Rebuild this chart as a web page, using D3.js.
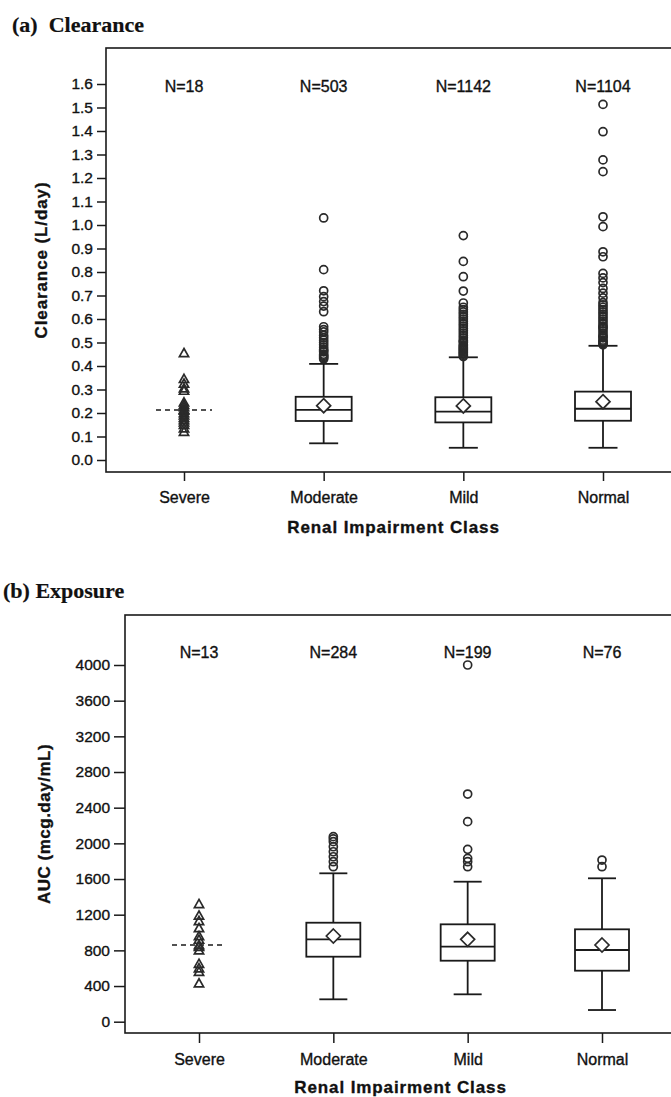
<!DOCTYPE html>
<html>
<head>
<meta charset="utf-8">
<script src="https://cdn.jsdelivr.net/npm/d3@7"></script>
<style>
  html, body { margin: 0; padding: 0; background: #fff; }
  svg { display: block; }
  text { font-family: "Liberation Sans", Arial, sans-serif; fill: #111; stroke: #111; stroke-width: 0.35px; }
  .ptitle { font-family: "Liberation Serif", "Times New Roman", serif; font-weight: bold; font-size: 22px; stroke-width: 0.2px; }
</style>
</head>
<body>
<script>
// Renal impairment classes shown on both panels
const categories = ["Severe", "Moderate", "Mild", "Normal"];

// (a) Clearance (L/day)
const clearanceN = [18, 503, 1142, 1104];
const clearanceTicks = [0, 0.1, 0.2, 0.3, 0.4, 0.5, 0.6, 0.7, 0.8, 0.9, 1.0, 1.1, 1.2, 1.3, 1.4, 1.5, 1.6];
const clearanceSevere = [0.455, 0.345, 0.325, 0.305, 0.295, 0.245, 0.235, 0.225, 0.215,
                         0.21, 0.2, 0.19, 0.18, 0.17, 0.16, 0.15, 0.135, 0.12];
// box statistics for Moderate, Mild, Normal
const clearanceLow    = [0.071, 0.052, 0.052];
const clearanceQ1     = [0.166, 0.160, 0.167];
const clearanceMedian = [0.213, 0.206, 0.218];
const clearanceQ3     = [0.269, 0.267, 0.291];
const clearanceHigh   = [0.409, 0.437, 0.486];
const clearanceMean   = [0.231, 0.230, 0.248];
const clearanceOutliers = [
  [0.43, 0.435, 0.44, 0.445, 0.45, 0.46, 0.465, 0.47, 0.48, 0.49, 0.50, 0.51, 0.52, 0.53,
   0.545, 0.555, 0.567, 0.631, 0.655, 0.674, 0.695, 0.72, 0.81, 1.03],
  [0.44, 0.445, 0.45, 0.455, 0.46, 0.465, 0.47, 0.475, 0.48, 0.485, 0.49, 0.50, 0.505, 0.51,
   0.52, 0.53, 0.54, 0.55, 0.56, 0.57, 0.58, 0.59, 0.60, 0.61, 0.62, 0.63, 0.64, 0.65,
   0.668, 0.719, 0.78, 0.845, 0.955],
  [0.49, 0.495, 0.50, 0.505, 0.51, 0.52, 0.525, 0.53, 0.54, 0.55, 0.56, 0.565, 0.57, 0.58,
   0.59, 0.60, 0.61, 0.62, 0.63, 0.64, 0.65, 0.66, 0.67, 0.69, 0.71, 0.73, 0.755, 0.775,
   0.794, 0.865, 0.886, 0.993, 1.035, 1.227, 1.277, 1.397, 1.513]
];

// (b) Exposure, AUC (mcg.day/mL)
const exposureN = [13, 284, 199, 76];
const exposureTicks = [0, 400, 800, 1200, 1600, 2000, 2400, 2800, 3200, 3600, 4000];
const exposureSevere = [1320, 1190, 1130, 1050, 960, 920, 860, 840, 800, 650, 600, 560, 430];
const exposureLow    = [251, 307, 131];
const exposureQ1     = [729, 684, 572];
const exposureMedian = [924, 841, 804];
const exposureQ3     = [1110, 1092, 1036];
const exposureHigh   = [1664, 1570, 1608];
const exposureMean   = [961, 924, 860];
const exposureOutliers = [
  [1738, 1794, 1850, 1906, 1962, 2019, 2050, 2075],
  [1738, 1794, 1832, 1933, 2243, 2553, 4000],
  [1738, 1813]
];

const W = 671, H = 1097;
const svg = d3.select("body").append("svg").attr("width", W).attr("height", H);

const ink = "#1a1a1a";

function drawPanel(o) {
  const g = svg.append("g");

  const x = d3.scalePoint().domain(categories).range(o.xRange);
  const y = d3.scaleLinear().domain([0, o.yMax]).range(o.yRange);

  // panel title
  g.append("text").attr("class", "ptitle")
    .attr("x", o.titleX).attr("y", o.titleY).text(o.title);

  // plot frame (right side runs past the page edge)
  g.append("rect")
    .attr("x", o.frame[0]).attr("y", o.frame[1])
    .attr("width", o.frame[2] - o.frame[0]).attr("height", o.frame[3] - o.frame[1])
    .attr("fill", "none").attr("stroke", ink).attr("stroke-width", 1.6);

  // y axis
  const ya = g.append("g").attr("transform", `translate(${o.frame[0]},0)`)
    .call(d3.axisLeft(y).tickValues(o.ticks).tickFormat(o.fmt)
      .tickSize(o.yTickLen).tickPadding(4).tickSizeOuter(0));
  ya.select(".domain").remove();
  ya.selectAll("line").attr("stroke", ink).attr("stroke-width", 1.5);
  ya.selectAll("text").style("font-size", "15.5px").attr("fill", ink).attr("stroke", ink)
    .style("font-family", "'Liberation Sans', Arial, sans-serif");

  // x axis
  const xa = g.append("g").attr("transform", `translate(0,${o.frame[3]})`)
    .call(d3.axisBottom(x).tickSize(o.xTickLen).tickSizeOuter(0));
  xa.select(".domain").remove();
  xa.selectAll("line").attr("stroke", ink).attr("stroke-width", 1.5);
  xa.selectAll("text").style("font-size", "16px").attr("fill", ink).attr("stroke", ink)
    .style("font-family", "'Liberation Sans', Arial, sans-serif")
    .attr("y", o.catLabelDy).attr("dy", 0);

  // axis titles
  g.append("text")
    .attr("transform", `translate(${o.yTitleX},${(o.frame[1] + o.frame[3]) / 2}) rotate(-90)`)
    .attr("text-anchor", "middle").style("font-size", "17px").style("font-weight", "bold")
    .style("letter-spacing", o.yTitleSpacing)
    .text(o.yTitle);
  g.append("text")
    .attr("x", (x("Moderate") + x("Mild")) / 2).attr("y", o.xTitleY)
    .attr("text-anchor", "middle").style("font-size", "17px").style("font-weight", "bold")
    .style("letter-spacing", "0.9px")
    .text("Renal Impairment Class");

  // sample sizes
  g.selectAll(".nlab").data(categories).join("text")
    .attr("x", d => x(d)).attr("y", o.nY).attr("text-anchor", "middle")
    .style("font-size", "16px")
    .text((d, i) => "N=" + o.n[i]);

  // Severe class: individual patients with a dashed median line
  const sx = x("Severe");
  const med = d3.median(o.severe);
  g.append("line")
    .attr("x1", sx - o.boxHalf).attr("x2", sx + o.boxHalf)
    .attr("y1", y(med)).attr("y2", y(med))
    .attr("stroke", ink).attr("stroke-width", 1.5).attr("stroke-dasharray", "5,4");
  g.selectAll(".tri").data(o.severe).join("path")
    .attr("d", "M0,-4.6L4.6,3.6L-4.6,3.6Z")
    .attr("transform", d => `translate(${sx},${y(d)})`)
    .attr("fill", "none").attr("stroke", "#2a2a2a").attr("stroke-width", 1.7);

  // box plots for the other classes
  const boxCats = categories.slice(1);
  boxCats.forEach((c, i) => {
    const cx = x(c);
    const bg = g.append("g");
    const line = (x1, y1, x2, y2) => bg.append("line")
      .attr("x1", x1).attr("y1", y1).attr("x2", x2).attr("y2", y2)
      .attr("stroke", ink).attr("stroke-width", 1.8);
    // whiskers
    line(cx, y(o.high[i]), cx, y(o.q3[i]));
    line(cx, y(o.q1[i]), cx, y(o.low[i]));
    line(cx - o.capHalf, y(o.high[i]), cx + o.capHalf, y(o.high[i]));
    line(cx - o.capHalf, y(o.low[i]), cx + o.capHalf, y(o.low[i]));
    // box
    bg.append("rect")
      .attr("x", cx - o.boxHalf).attr("y", y(o.q3[i]))
      .attr("width", 2 * o.boxHalf).attr("height", y(o.q1[i]) - y(o.q3[i]))
      .attr("fill", "#fff").attr("stroke", ink).attr("stroke-width", 1.8);
    line(cx - o.boxHalf, y(o.median[i]), cx + o.boxHalf, y(o.median[i]));
    // mean
    bg.append("path")
      .attr("d", "M0,-7L7,0L0,7L-7,0Z")
      .attr("transform", `translate(${cx},${y(o.mean[i])})`)
      .attr("fill", "#fff").attr("stroke", "#2a2a2a").attr("stroke-width", 1.7);
    // outliers
    bg.selectAll("circle").data(o.outliers[i]).join("circle")
      .attr("cx", cx).attr("cy", d => y(d)).attr("r", 4)
      .attr("fill", "none").attr("stroke", "#2a2a2a").attr("stroke-width", 1.7);
  });
}

drawPanel({
  title: "(a)\u00a0\u00a0Clearance", titleX: 12, titleY: 32,
  frame: [106, 48, 681, 472],
  xRange: [184, 603],
  yMax: 1.6, yRange: [460, 84],
  ticks: clearanceTicks, fmt: d3.format(".1f"),
  yTickLen: 9, xTickLen: 9, catLabelDy: 31,
  yTitle: "Clearance (L/day)", yTitleX: 47, yTitleSpacing: "0.9px",
  xTitleY: 533, nY: 92,
  n: clearanceN, severe: clearanceSevere,
  low: clearanceLow, q1: clearanceQ1, median: clearanceMedian, q3: clearanceQ3,
  high: clearanceHigh, mean: clearanceMean, outliers: clearanceOutliers,
  boxHalf: 28, capHalf: 14.5
});

drawPanel({
  title: "(b) Exposure", titleX: 3, titleY: 598,
  frame: [125, 615, 676, 1033],
  xRange: [199, 602],
  yMax: 4000, yRange: [1021.7, 665],
  ticks: exposureTicks, fmt: d3.format("d"),
  yTickLen: 11, xTickLen: 10, catLabelDy: 32,
  yTitle: "AUC (mcg.day/mL)", yTitleX: 50, yTitleSpacing: "0.5px",
  xTitleY: 1093, nY: 658,
  n: exposureN, severe: exposureSevere,
  low: exposureLow, q1: exposureQ1, median: exposureMedian, q3: exposureQ3,
  high: exposureHigh, mean: exposureMean, outliers: exposureOutliers,
  boxHalf: 27, capHalf: 14
});
</script>
</body>
</html>
